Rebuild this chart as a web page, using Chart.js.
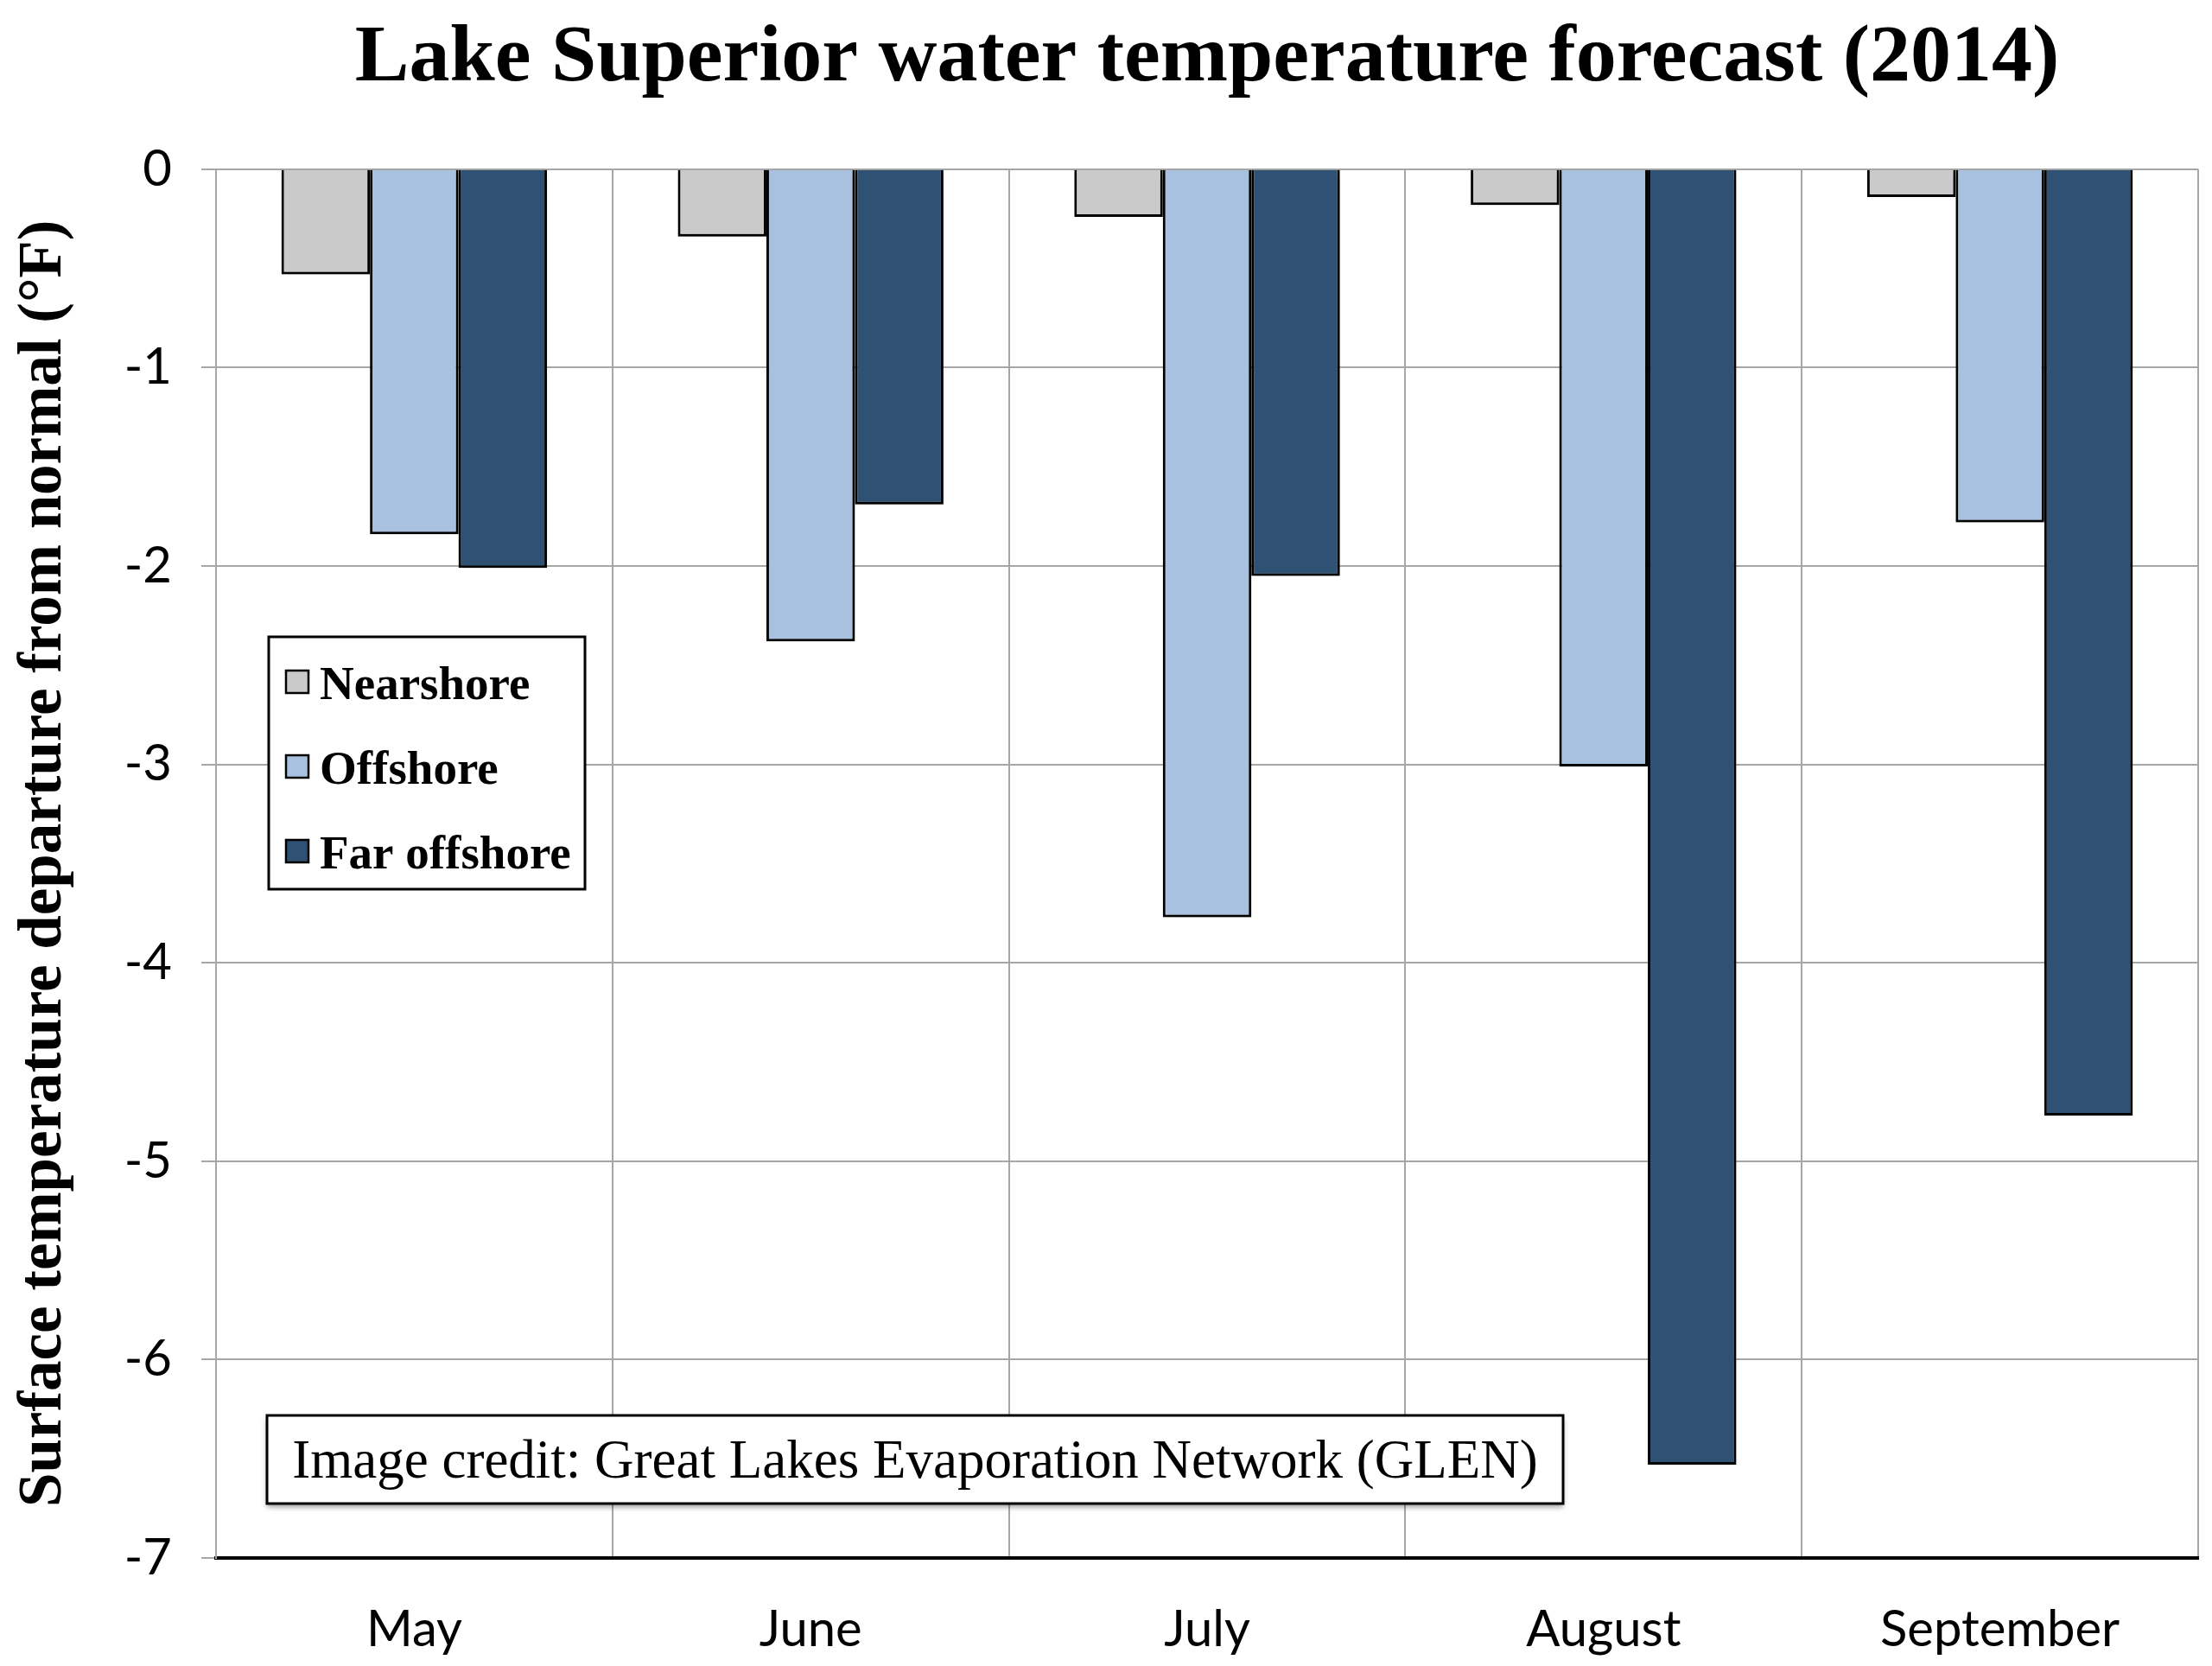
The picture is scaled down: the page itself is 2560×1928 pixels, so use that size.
<!DOCTYPE html>
<html>
<head>
<meta charset="utf-8">
<script src="https://cdn.jsdelivr.net/npm/chart.js@4.4.1/dist/chart.umd.min.js"></script>
<style>
	html, body { margin: 0; padding: 0; background: #fff; }
	#wrap { width: 2560px; height: 1928px; }
</style>
</head>
<body>
<div id="wrap"><canvas id="myChart"></canvas></div>
<script>
const months = [ 'May', 'June', 'July', 'August', 'September' ];
const nearshore = [ -0.53, -0.34, -0.24, -0.18, -0.14 ];
const offshore = [ -1.84, -2.38, -3.77, -3.01, -1.78 ];
const farOffshore = [ -2.01, -1.69, -2.05, -6.53, -4.77 ];
const creditText = 'Image credit: Great Lakes Evaporation Network (GLEN)';

const gridGray = '#a6a6a6';

// soft drop shadow under the bars, like the spreadsheet original
const barShadow = {
	id: 'barShadow',
	beforeDatasetsDraw(chart) {
		const c = chart.ctx;
		c.save();
		c.shadowColor = 'rgba(0,0,0,0.35)';
		c.shadowBlur = 10;
		c.shadowOffsetX = 2;
		c.shadowOffsetY = 6;
	},
	afterDatasetsDraw(chart) {
		chart.ctx.restore();
	}
};

// boxed legend and credit note inside the plot
const boxes = {
	id: 'boxes',
	afterDraw(chart) {
		const c = chart.ctx;
		c.save();

		// legend
		const lx = 311, ly = 737, lw = 366, lh = 292;
		c.fillStyle = '#fff';
		c.fillRect(lx, ly, lw, lh);
		c.strokeStyle = '#000';
		c.lineWidth = 3;
		c.strokeRect(lx, ly, lw, lh);
		c.font = 'bold 55px "Liberation Serif"';
		c.textBaseline = 'middle';
		chart.data.datasets.forEach((ds, i) => {
			const y = 792 + i * 98;
			c.fillStyle = ds.backgroundColor;
			c.fillRect(331, y - 16, 26, 26);
			c.lineWidth = 2.5;
			c.strokeRect(331, y - 16, 26, 26);
			c.fillStyle = '#000';
			c.fillText(ds.label, 370, y + 3);
		});

		// credit
		const bx = 309, by = 1638, bw = 1500, bh = 102;
		c.shadowColor = 'rgba(0,0,0,0.4)';
		c.shadowBlur = 6;
		c.shadowOffsetY = 4;
		c.fillStyle = '#fff';
		c.fillRect(bx, by, bw, bh);
		c.shadowColor = 'transparent';
		c.lineWidth = 3;
		c.strokeStyle = '#000';
		c.strokeRect(bx, by, bw, bh);
		c.fillStyle = '#000';
		c.font = '63px "Liberation Serif"';
		c.textAlign = 'center';
		c.fillText(creditText, bx + bw / 2, by + bh / 2 + 4);

		c.restore();
	}
};

const ctx = document.getElementById('myChart').getContext('2d');

const chart = new Chart(ctx, {
	type: 'bar',
	data: {
		labels: months,
		datasets: [
			{
				label: 'Nearshore',
				data: nearshore,
				backgroundColor: '#cacaca',
				borderColor: '#000',
				borderWidth: 3
			},
			{
				label: 'Offshore',
				data: offshore,
				backgroundColor: '#a7c1df',
				borderColor: '#000',
				borderWidth: 3
			},
			{
				label: 'Far offshore',
				data: farOffshore,
				backgroundColor: '#2f5173',
				borderColor: '#000',
				borderWidth: 3
			}
		]
	},
	options: {
		responsive: true,
		maintainAspectRatio: false,
		animation: false,
		categoryPercentage: 0.67,
		barPercentage: 1.0,
		layout: {
			padding: { left: 0, right: 16, top: 0, bottom: 0 }
		},
		plugins: {
			legend: { display: false },
			tooltip: { enabled: false },
			title: {
				display: true,
				fullSize: false,
				text: 'Lake Superior water temperature forecast (2014)',
				color: '#000',
				font: { family: '"Liberation Serif"', size: 94, weight: 'bold' },
				padding: { top: 12, bottom: 71 }
			}
		},
		scales: {
			x: {
				grid: {
					offset: true,
					color: (c) => (c.index === months.length ? '#000' : gridGray),
					lineWidth: 2,
					tickLength: 0
				},
				border: { color: '#000', width: 4 },
				ticks: {
					color: '#000',
					padding: 48,
					font: { family: 'Lato', size: 58 }
				},
				afterFit(scale) {
					scale.height = 125;
				}
			},
			y: {
				min: -7,
				max: 0,
				ticks: {
					stepSize: 1,
					color: '#000',
					padding: 34,
					font: { family: 'Lato', size: 58 }
				},
				grid: {
					color: gridGray,
					lineWidth: 2,
					tickLength: 17
				},
				border: { color: gridGray, width: 2 },
				title: {
					display: true,
					text: 'Surface temperature departure from normal (°F)',
					color: '#000',
					font: { family: '"Liberation Serif"', size: 71, weight: 'bold' },
					padding: { top: 9, bottom: 0 }
				},
				afterFit(scale) {
					scale.width = 250;
				}
			}
		}
	},
	plugins: [ barShadow, boxes ]
});
</script>
</body>
</html>
